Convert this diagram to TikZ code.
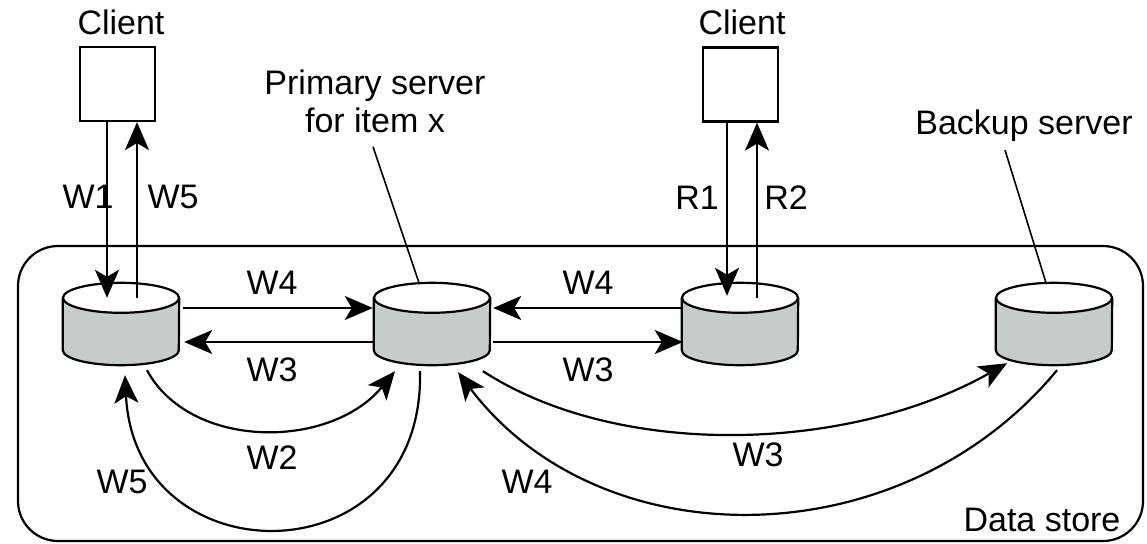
\documentclass[tikz,border=0pt]{standalone}
\usepackage{fontspec}
\setmainfont{Liberation Sans}
\usetikzlibrary{arrows.meta,calc}
\definecolor{cylgray}{HTML}{C5CCCA}
\tikzset{
  lab/.style={font=\fontsize{34}{38}\selectfont, inner sep=0pt},
  arr/.style={line width=2.2pt, -{Stealth[length=28pt,width=24pt,inset=7pt]}},
  leader/.style={line width=1.6pt},
  clientbox/.style={draw, line width=2.2pt, minimum width=75pt, minimum height=74pt, inner sep=0pt},
  cylnode/.style={minimum width=116pt, minimum height=82pt, inner sep=0pt},
}
\newcommand{\drawcyl}[1]{%
  \fill[cylgray] ([yshift=-15pt]#1.north west) -- ([yshift=15pt]#1.south west)
     arc[start angle=180,end angle=360,x radius=58pt,y radius=15pt]
     -- ([yshift=-15pt]#1.north east) -- cycle;
  \draw[line width=2.2pt] ([yshift=-15pt]#1.north west) -- ([yshift=15pt]#1.south west)
     arc[start angle=180,end angle=360,x radius=58pt,y radius=15pt]
     -- ([yshift=-15pt]#1.north east);
  \draw[line width=2.2pt, fill=white] ([yshift=-15pt]#1.north) ellipse[x radius=58pt, y radius=15pt];
}
\begin{document}
\begin{tikzpicture}[x=1pt,y=-1pt]
\useasboundingbox (0,0) rectangle (1147,543);
% data store
\node[draw, rounded corners=40pt, line width=2.2pt, minimum width=1125pt, minimum height=295pt, inner sep=0pt] (ds) at (580.5,393.5) {};
\node[lab] (dst) at (1042,520) {Data store};
% cylinders
\node[cylnode] (c1) at (121,324) {};
\node[cylnode] (c2) at (432,324) {};
\node[cylnode] (c3) at (740,324) {};
\node[cylnode] (c4) at (1054,324) {};
\drawcyl{c1}
\drawcyl{c2}
\drawcyl{c3}
\drawcyl{c4}
% clients
\node[clientbox] (cl1) at (117.5,84) {};
\node[clientbox] (cl2) at (740.5,84.5) {};
\node[lab] (cl1t) at (121,22) {Client};
\node[lab] (cl2t) at (742,22) {Client};
% client arrows
\draw[arr] ([xshift=-10.5pt]cl1.south) -- ([xshift=-14pt,yshift=-15pt]c1.north);
\draw[arr] ([xshift=16pt,yshift=-15pt]c1.north) -- ([xshift=19.5pt]cl1.south);
\draw[arr] ([xshift=-13.5pt]cl2.south) -- ([xshift=-13pt,yshift=-13pt]c3.north);
\draw[arr] ([xshift=17pt,yshift=-15pt]c3.north) -- ([xshift=16.5pt]cl2.south);
\node[lab] (w1) at (88,197) {W1};
\node[lab] (w5a) at (173,197) {W5};
\node[lab] (r1) at (697,198) {R1};
\node[lab] (r2) at (786,198) {R2};
% horizontal arrows
\draw[arr] ([xshift=4pt,yshift=16pt]c1.east) -- ([xshift=-1pt,yshift=16pt]c2.west);
\draw[arr] ([xshift=-1pt,yshift=-18pt]c2.west) -- ([xshift=5pt,yshift=-18pt]c1.east);
\draw[arr] ([yshift=16pt]c3.west) -- ([xshift=3pt,yshift=16pt]c2.east);
\draw[arr] ([xshift=3pt,yshift=-18pt]c2.east) -- ([xshift=1pt,yshift=-18pt]c3.west);
\node[lab] (w4a) at (272,283) {W4};
\node[lab] (w3a) at (272,370) {W3};
\node[lab] (w4b) at (588,283) {W4};
\node[lab] (w3b) at (588,370) {W3};
% curved arrows
\draw[arr] ([xshift=26pt,yshift=-5pt]c1.south) .. controls (190,450) and (330,450) .. ([xshift=-37pt,yshift=-6pt]c2.south);
\draw[arr] ([xshift=-12pt,yshift=-6pt]c2.south) .. controls (425,580) and (135,580) .. ([xshift=4pt,yshift=-10pt]c1.south);
\draw[arr] ([xshift=51pt,yshift=-6pt]c2.south) .. controls (620,460) and (850,452) .. ([xshift=-47pt,yshift=2pt]c4.south);
\draw[arr] ([xshift=3pt,yshift=-5pt]c4.south) .. controls (900,560) and (600,560) .. ([xshift=26pt,yshift=-7pt]c2.south);
\node[lab] (w2) at (272,458) {W2};
\node[lab] (w5b) at (122,482) {W5};
\node[lab] (w4c) at (527,482) {W4};
\node[lab] (w3c) at (758,455) {W3};
% server labels
\node[lab, align=center] (prim) at (375,101) {Primary server\\for item x};
\draw[leader] ([xshift=-2pt,yshift=-14pt]prim.south) -- ([xshift=-13pt]c2.north);
\node[lab] (bk) at (1024,126) {Backup server};
\draw[leader] ([xshift=-19pt,yshift=-8pt]bk.south) -- ([xshift=-8pt]c4.north);
\end{tikzpicture}
\end{document}
